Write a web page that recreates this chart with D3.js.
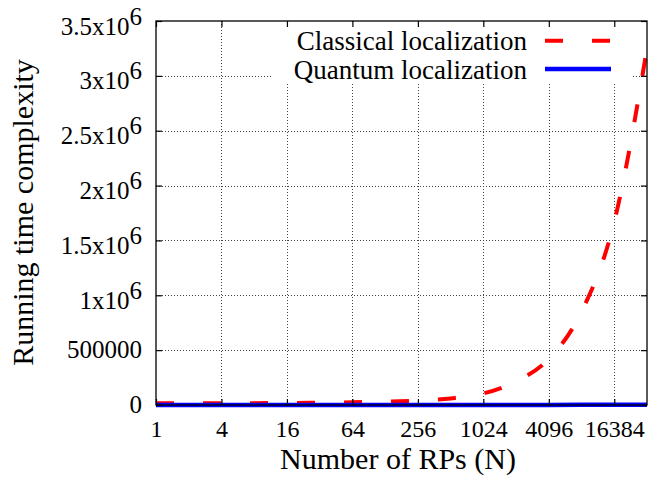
<!DOCTYPE html>
<html><head><meta charset="utf-8">
<script src="https://cdn.jsdelivr.net/npm/d3@7"></script>
<style>
body{margin:0;background:#fff}
svg text{font-family:"Liberation Serif","Times New Roman",serif;fill:#000}
</style>
</head><body>
<svg id="chart" width="670" height="479"></svg>
<script>
// ---- data ----
const nValues = [1,2,4,8,16,32,64,128,256,512,1024,2048,4096,8192,16384,32768];
const classicalValues = [15000,15000,16000,17000,18000,21000,25000,31000,40000,60000,105000,215000,420000,850000,1670000,3250000];
const quantumValues = [17,23,33,47,67,95,133,188,267,377,533,750,1067,1500,2133,3017];
const xTickValues = [1,4,16,64,256,1024,4096,16384];
const xTickLabels = ["1","4","16","64","256","1024","4096","16384"];
const yTickValues = [0,500000,1000000,1500000,2000000,2500000,3000000,3500000];
const yTickBase = ["0","500000","1x10","1.5x10","2x10","2.5x10","3x10","3.5x10"];
const yTickSup = ["","","6","6","6","6","6","6"];
const seriesNames = ["Classical localization","Quantum localization"];
const seriesColors = ["#ff0000","#0000ff"];
const xTitle = "Number of RPs (N)";
const yTitle = "Running time complexity";

// ---- layout ----
const L=156, R=647, T=21, B=405;
const svg = d3.select("#chart");
const x = d3.scaleLog().base(2).domain([1,32768]).range([L,R]);
const y = d3.scaleLinear().domain([0,3500000]).range([B,T]);

// grid
const grid = svg.append("g").attr("stroke","#444").attr("stroke-width",1)
  .attr("stroke-dasharray","1,2").attr("shape-rendering","crispEdges");
xTickValues.filter(v=>v>1).forEach(v=>{
  const xx=Math.round(x(v))+0.5;
  grid.append("line").attr("x1",xx).attr("x2",xx).attr("y1",T).attr("y2",B);
});
yTickValues.filter(v=>v>0 && v<3500000).forEach(v=>{
  const yy=Math.round(y(v))+0.5;
  grid.append("line").attr("x1",L).attr("x2",R).attr("y1",yy).attr("y2",yy);
});

// legend (opaque box)
svg.append("rect").attr("x",272).attr("y",T+1).attr("width",633-272).attr("height",62).attr("fill","#fff");

// clip
svg.append("clipPath").attr("id","clip").append("rect").attr("x",L).attr("y",T).attr("width",R-L).attr("height",B-T+8);

const line = d3.line().x(d=>x(d[0])).y(d=>y(d[1])).curve(d3.curveMonotoneX);
svg.append("path").attr("clip-path","url(#clip)")
  .attr("d",line(nValues.map((n,i)=>[n,classicalValues[i]])))
  .attr("fill","none").attr("stroke",seriesColors[0]).attr("stroke-width",4)
  .attr("stroke-dasharray","18,29");
svg.append("path").attr("clip-path","url(#clip)")
  .attr("d",line(nValues.map((n,i)=>[n,quantumValues[i]])))
  .attr("fill","none").attr("stroke",seriesColors[1]).attr("stroke-width",4.5);

// legend entries
const legY=[40.7,69];
seriesNames.forEach((s,i)=>{
  svg.append("text").attr("x",527).attr("y",legY[i]+9.5).attr("text-anchor","end")
    .attr("font-size",27).text(s);
  const l=svg.append("line").attr("x1",545).attr("x2",611).attr("y1",legY[i]).attr("y2",legY[i])
    .attr("stroke",seriesColors[i]).attr("stroke-width",i==0?4:4.5);
  if(i==0) l.attr("stroke-dasharray","18,29");
});

// border
svg.append("rect").attr("x",L).attr("y",T).attr("width",R-L).attr("height",B-T)
  .attr("fill","none").attr("stroke","#000").attr("stroke-width",1.3);

// axes ticks (inward, mirrored)
const tk=6;
const axB = d3.axisBottom(x).tickValues(xTickValues).tickSize(-tk).tickFormat((d,i)=>xTickLabels[i]);
const gB = svg.append("g").attr("transform",`translate(0,${B})`).call(axB);
gB.select(".domain").remove();
gB.selectAll("text").attr("font-size",24).attr("dy",null).attr("y",32);
const axT = d3.axisTop(x).tickValues(xTickValues).tickSize(-tk).tickFormat("");
const gT = svg.append("g").attr("transform",`translate(0,${T})`).call(axT);
gT.select(".domain").remove();

const axL = d3.axisLeft(y).tickValues(yTickValues).tickSize(-tk).tickFormat("");
const gL = svg.append("g").attr("transform",`translate(${L},0)`).call(axL);
gL.select(".domain").remove();
const axR = d3.axisRight(y).tickValues(yTickValues).tickSize(-tk).tickFormat("");
const gR = svg.append("g").attr("transform",`translate(${R},0)`).call(axR);
gR.select(".domain").remove();
svg.selectAll(".tick line").attr("stroke","#000").attr("stroke-width",1.2);

// y tick labels with superscripts
yTickValues.forEach((v,i)=>{
  const yy=y(v);
  const t=svg.append("text").attr("x",142).attr("text-anchor","end").attr("font-size",25);
  if(yTickSup[i]){
    t.attr("y",yy+13.5);
    t.append("tspan").text(yTickBase[i]);
    t.append("tspan").attr("dy",-10).text(yTickSup[i]);
  } else {
    t.attr("y",yy+8).text(yTickBase[i]);
  }
});

// axis titles
svg.append("text").attr("x",398).attr("y",469).attr("text-anchor","middle").attr("font-size",30).text(xTitle);
svg.append("text").attr("transform","translate(33,212.5) rotate(-90)").attr("text-anchor","middle").attr("font-size",30).text(yTitle);
</script>
</body></html>
